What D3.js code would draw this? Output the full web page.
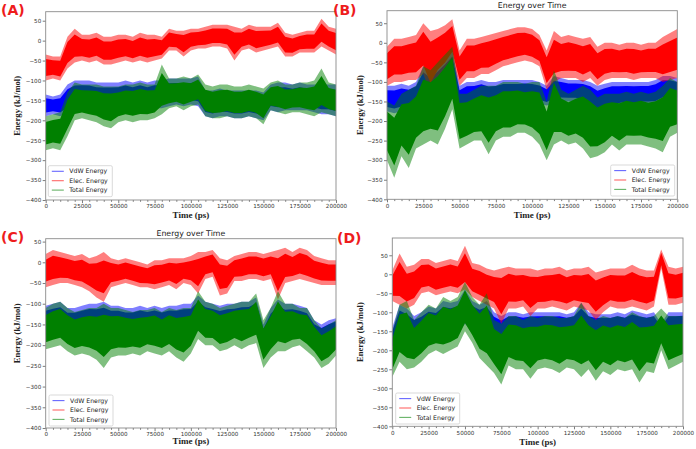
<!DOCTYPE html>
<meta charset="utf-8">
<script src="https://d3js.org/d3.v7.min.js"></script>
<style>
  body { margin: 0; background: #fff; }
  svg { display: block; }
</style>
<div id="chart"></div>
<script>
// time samples (ps) and tick values
var timePs = [0,5000,10000,15000,20000,25000,30000,35000,40000,45000,50000,55000,60000,65000,70000,75000,80000,85000,90000,95000,100000,
  105000,110000,115000,120000,125000,130000,135000,140000,145000,150000,155000,160000,165000,170000,175000,180000,185000,190000,195000,200000];
var xTicks = [0,25000,50000,75000,100000,125000,150000,175000,200000];
var yTicks = [50,0,-50,-100,-150,-200,-250,-300,-350,-400];
var seriesNames = ["VdW Energy", "Elec. Energy", "Total Energy"];

// (A) low / high envelope of each trace, read per 5000 ps
var aVdwLo = [-190,-185,-190,-180,-175,-170,-175,-175,-180,-180,-175,-175,-175,-170,-175,-170,-170,-165,-160,-165,-160,-165,-190,-195,-190,-190,-195,-195,-190,-195,-200,-175,-180,-175,-175,-175,-175,-180,-185,-185,-190];
var aVdwHi = [-135,-140,-135,-110,-100,-100,-100,-105,-105,-105,-105,-100,-105,-100,-105,-100,-100,-95,-95,-95,-95,-90,-125,-125,-120,-125,-125,-125,-125,-125,-130,-110,-105,-105,-110,-105,-110,-110,-110,-110,-110];
var aElecLo = [-100,-95,-100,-70,-55,-50,-55,-50,-60,-60,-55,-50,-55,-50,-55,-50,-45,-25,-25,-40,-25,-20,-20,-15,-15,-20,-50,-25,-20,-30,-25,-20,-15,-40,-40,-30,-30,-30,-15,-25,-35];
var aElecHi = [-35,-40,-40,10,30,15,15,20,10,10,15,15,10,20,15,15,10,30,25,25,30,30,35,40,40,40,35,30,40,35,35,35,45,20,15,20,25,25,55,35,30];
var aTotalLo = [-275,-270,-275,-240,-200,-195,-200,-205,-215,-220,-205,-200,-205,-200,-200,-195,-185,-170,-165,-175,-165,-160,-190,-195,-195,-190,-195,-195,-190,-195,-210,-175,-180,-185,-180,-180,-185,-190,-180,-185,-190];
var aTotalHi = [-190,-185,-180,-130,-105,-110,-110,-110,-115,-115,-115,-110,-110,-105,-110,-110,-60,-95,-95,-90,-95,-85,-110,-115,-110,-110,-115,-115,-110,-115,-120,-105,-100,-110,-110,-105,-105,-100,-70,-105,-110];

// (B)
var bVdwLo = [-175,-180,-175,-170,-165,-150,-140,-140,-130,-110,-175,-165,-160,-160,-170,-160,-155,-155,-155,-150,-155,-155,-160,-155,-150,-150,-150,-155,-165,-185,-170,-165,-165,-160,-165,-160,-160,-160,-150,-150,-150];
var bVdwHi = [-110,-110,-105,-110,-100,-60,-80,-60,-40,-20,-110,-100,-100,-95,-100,-100,-95,-95,-95,-95,-95,-100,-110,-85,-90,-95,-95,-95,-100,-110,-105,-100,-100,-100,-100,-100,-100,-95,-85,-85,-90];
var bElecLo = [-110,-100,-100,-95,-95,-80,-130,-90,-70,-40,-110,-90,-90,-80,-80,-70,-60,-55,-50,-45,-50,-60,-120,-100,-90,-90,-90,-100,-90,-110,-95,-90,-90,-90,-95,-90,-90,-90,-100,-95,-90];
var bElecHi = [-10,10,10,15,20,50,30,35,45,60,-20,10,10,15,20,25,30,35,40,40,35,20,-20,30,15,20,15,10,15,-10,0,0,-5,0,0,-5,0,0,15,25,35];
var bTotalLo = [-300,-345,-290,-320,-270,-260,-250,-260,-220,-170,-270,-260,-250,-250,-285,-250,-240,-240,-230,-230,-240,-260,-300,-260,-250,-260,-255,-270,-295,-290,-280,-260,-275,-260,-260,-260,-265,-270,-280,-240,-230];
var bTotalHi = [-150,-160,-130,-120,-110,-60,-70,-50,-30,-10,-130,-130,-120,-110,-110,-110,-100,-100,-100,-105,-100,-100,-150,-70,-120,-130,-120,-110,-120,-140,-130,-130,-130,-125,-130,-125,-130,-125,-110,-90,-100];

// (C)
var cVdwLo = [-175,-170,-175,-180,-180,-175,-175,-180,-180,-175,-175,-175,-175,-170,-170,-170,-175,-170,-175,-180,-175,-165,-175,-175,-180,-180,-170,-175,-170,-165,-215,-195,-185,-185,-180,-175,-185,-195,-200,-195,-180];
var cVdwHi = [-105,-100,-95,-110,-110,-105,-100,-100,-95,-105,-105,-110,-110,-105,-110,-105,-110,-105,-105,-100,-100,-80,-95,-100,-105,-100,-100,-95,-95,-85,-150,-110,-90,-100,-100,-105,-110,-140,-150,-140,-135];
var cElecLo = [-60,-55,-50,-50,-55,-60,-70,-85,-95,-60,-55,-50,-55,-60,-60,-65,-60,-55,-65,-50,-55,-75,-40,-35,-80,-75,-45,-45,-40,-40,-45,-40,-90,-50,-45,-40,-45,-50,-55,-55,-55];
var cElecHi = [20,30,25,20,15,20,10,15,25,10,5,10,5,0,-5,5,5,10,10,10,15,25,25,30,10,5,15,20,25,25,20,25,30,35,25,35,30,15,10,5,5];
var cTotalLo = [-210,-205,-200,-215,-225,-220,-225,-235,-255,-230,-225,-225,-220,-225,-215,-220,-225,-215,-230,-240,-220,-185,-200,-200,-215,-210,-200,-210,-200,-195,-255,-230,-215,-215,-205,-200,-215,-230,-255,-245,-225];
var cTotalHi = [-110,-100,-95,-110,-120,-115,-110,-110,-100,-110,-110,-115,-120,-115,-115,-110,-120,-110,-115,-110,-110,-70,-95,-100,-110,-105,-100,-95,-95,-75,-140,-110,-70,-100,-100,-110,-110,-140,-160,-150,-140];

// (D)
var dVdwLo = [-200,-170,-180,-170,-170,-165,-160,-165,-160,-155,-130,-150,-160,-165,-170,-180,-165,-160,-160,-165,-160,-160,-165,-160,-160,-160,-165,-160,-165,-160,-165,-160,-160,-160,-165,-160,-160,-180,-160,-160,-155];
var dVdwHi = [-140,-80,-90,-110,-100,-85,-90,-70,-75,-70,-40,-70,-80,-70,-100,-110,-100,-100,-105,-100,-100,-100,-100,-100,-105,-100,-75,-100,-105,-105,-105,-100,-105,-95,-100,-105,-100,-130,-100,-100,-100];
var dElecLo = [-70,-80,-90,-80,-50,-45,-55,-50,-45,-50,-40,-60,-70,-80,-90,-130,-90,-90,-85,-110,-90,-90,-85,-90,-95,-85,-90,-95,-120,-100,-85,-90,-90,-85,-90,-95,-85,15,-80,-80,-75];
var dElecHi = [10,55,20,25,40,40,30,35,40,35,75,30,25,15,10,15,20,15,15,15,10,15,15,20,10,15,15,20,5,10,15,15,15,25,15,10,10,65,20,15,20];
var dTotalLo = [-270,-230,-250,-245,-230,-210,-200,-210,-200,-190,-150,-180,-220,-240,-260,-290,-240,-250,-250,-275,-250,-245,-250,-260,-245,-250,-270,-250,-280,-255,-265,-250,-255,-250,-285,-255,-260,-200,-250,-240,-230];
var dTotalHi = [-150,-80,-70,-120,-100,-80,-90,-60,-70,-60,-20,-60,-80,-50,-120,-130,-110,-110,-120,-110,-115,-110,-110,-115,-115,-110,-75,-110,-120,-110,-115,-110,-115,-100,-110,-115,-110,-90,-110,-110,-110];

var colors = ["#0000ff", "#ff0000", "#008000"];

var panels = [
  {label: "(A)", lx: 1, ly: 15, title: null,
   left: 45.7, right: 336, top: 11.7, bottom: 200, yTop: 72.6,
   series: [[aVdwLo, aVdwHi], [aElecLo, aElecHi], [aTotalLo, aTotalHi]],
   legend: [48.3, 165.7], ylabX: 20, xlabY: 218},
  {label: "(B)", lx: 333, ly: 15, title: "Energy over Time",
   left: 387, right: 677.3, top: 10.7, bottom: 199.3, yTop: 82,
   series: [[bVdwLo, bVdwHi], [bElecLo, bElecHi], [bTotalLo, bTotalHi]],
   legend: [610.7, 165], ylabX: 363, xlabY: 218},
  {label: "(C)", lx: 1, ly: 242, title: "Energy over Time",
   left: 45.7, right: 336, top: 238.7, bottom: 428, yTop: 57,
   series: [[cVdwLo, cVdwHi], [cElecLo, cElecHi], [cTotalLo, cTotalHi]],
   legend: [49, 395], ylabX: 20, xlabY: 444},
  {label: "(D)", lx: 337, ly: 243, title: null,
   left: 392.3, right: 683, top: 238, bottom: 426.3, yTop: 95.5,
   series: [[dVdwLo, dVdwHi], [dElecLo, dElecHi], [dTotalLo, dTotalHi]],
   legend: [395.7, 393], ylabX: 363, xlabY: 445}
];

var svg = d3.select("#chart").append("svg")
  .attr("width", 696).attr("height", 449);

panels.forEach(function(p, pi) {
  var x = d3.scaleLinear().domain([0, 200000]).range([p.left, p.right]);
  var y = d3.scaleLinear().domain([-400, p.yTop]).range([p.bottom, p.top]);
  var g = svg.append("g");

  g.append("clipPath").attr("id", "clip" + pi)
    .append("rect").attr("x", p.left).attr("y", p.top)
    .attr("width", p.right - p.left).attr("height", p.bottom - p.top);

  var plot = g.append("g").attr("clip-path", "url(#clip" + pi + ")");

  // traces: VdW, then Elec, then Total on top
  p.series.forEach(function(s, si) {
    var lo = s[0], hi = s[1], col = colors[si];
    // light spikes = full envelope, solid = dense middle of the band
    var outer = d3.area()
      .x(function(d, i) { return x(timePs[i]); })
      .y0(function(d, i) { return y(lo[i]); })
      .y1(function(d, i) { return y(hi[i]); });
    plot.append("path").datum(lo).attr("d", outer)
      .attr("fill", col).attr("opacity", 0.5);

    var core = d3.area()
      .x(function(d, i) { return x(timePs[i]); })
      .y0(function(d, i) { return y(lo[i] + 0.17 * (hi[i] - lo[i])); })
      .y1(function(d, i) { return y(hi[i] - 0.17 * (hi[i] - lo[i])); });
    plot.append("path").datum(lo).attr("d", core).attr("fill", col);
  });

  // axes
  g.append("g").attr("transform", "translate(0," + p.bottom + ")")
    .call(d3.axisBottom(x).tickValues(xTicks).tickSize(3).tickPadding(1.5).tickFormat(d3.format("d")));
  g.append("g").attr("transform", "translate(0," + p.bottom + ")")
    .call(d3.axisBottom(x).tickValues(timePs.filter(function(t) { return t % 25000 !== 0; }))
      .tickSize(1.8).tickFormat(""));
  g.append("g").attr("transform", "translate(" + p.left + ",0)")
    .call(d3.axisLeft(y).tickValues(yTicks).tickSize(3).tickPadding(1.5).tickFormat(d3.format("d")));

  g.selectAll(".domain").remove();
  g.selectAll(".tick line").attr("stroke", "#444").attr("stroke-width", 0.7);
  g.selectAll(".tick text").attr("fill", "#333")
    .style("font-family", "'DejaVu Sans', sans-serif").style("font-size", "5.6px");

  // frame
  g.append("rect").attr("x", p.left).attr("y", p.top)
    .attr("width", p.right - p.left).attr("height", p.bottom - p.top)
    .attr("fill", "none").attr("stroke", "#8a8a8a").attr("stroke-width", 0.9);

  // labels
  g.append("text").attr("x", (p.left + p.right) / 2).attr("y", p.xlabY)
    .attr("text-anchor", "middle").attr("fill", "#222")
    .style("font-family", "'Liberation Serif', serif").style("font-weight", "bold").style("font-size", "9px")
    .text("Time (ps)");
  g.append("text")
    .attr("transform", "translate(" + p.ylabX + "," + ((p.top + p.bottom) / 2) + ") rotate(-90)")
    .attr("text-anchor", "middle").attr("fill", "#222")
    .style("font-family", "'Liberation Serif', serif").style("font-weight", "bold").style("font-size", "8.6px")
    .text("Energy (kJ/mol)");
  if (p.title) {
    g.append("text").attr("x", (p.left + p.right) / 2).attr("y", p.top - 2.5)
      .attr("text-anchor", "middle").attr("fill", "#222")
      .style("font-family", "'DejaVu Sans', sans-serif").style("font-size", "7.8px")
      .text(p.title);
  }
  g.append("text").attr("x", p.lx).attr("y", p.ly).attr("fill", "#ee1c1c")
    .style("font-family", "'DejaVu Sans', sans-serif").style("font-weight", "bold").style("font-size", "14px")
    .text(p.label);

  // legend
  var lg = g.append("g").attr("transform", "translate(" + p.legend[0] + "," + p.legend[1] + ")");
  lg.append("rect").attr("width", 64).attr("height", 31).attr("rx", 1.5)
    .attr("fill", "#fff").attr("fill-opacity", 0.85).attr("stroke", "#cfcfcf").attr("stroke-width", 0.8);
  seriesNames.forEach(function(name, i) {
    var yy = 5.6 + i * 9.4;
    lg.append("line").attr("x1", 3.5).attr("x2", 15.5).attr("y1", yy).attr("y2", yy)
      .attr("stroke", colors[i]).attr("stroke-opacity", 0.6).attr("stroke-width", 1.1);
    lg.append("text").attr("x", 21).attr("y", yy + 2.2).attr("fill", "#222")
      .style("font-family", "'DejaVu Sans', sans-serif").style("font-size", "6.2px")
      .text(name);
  });
});
</script>
